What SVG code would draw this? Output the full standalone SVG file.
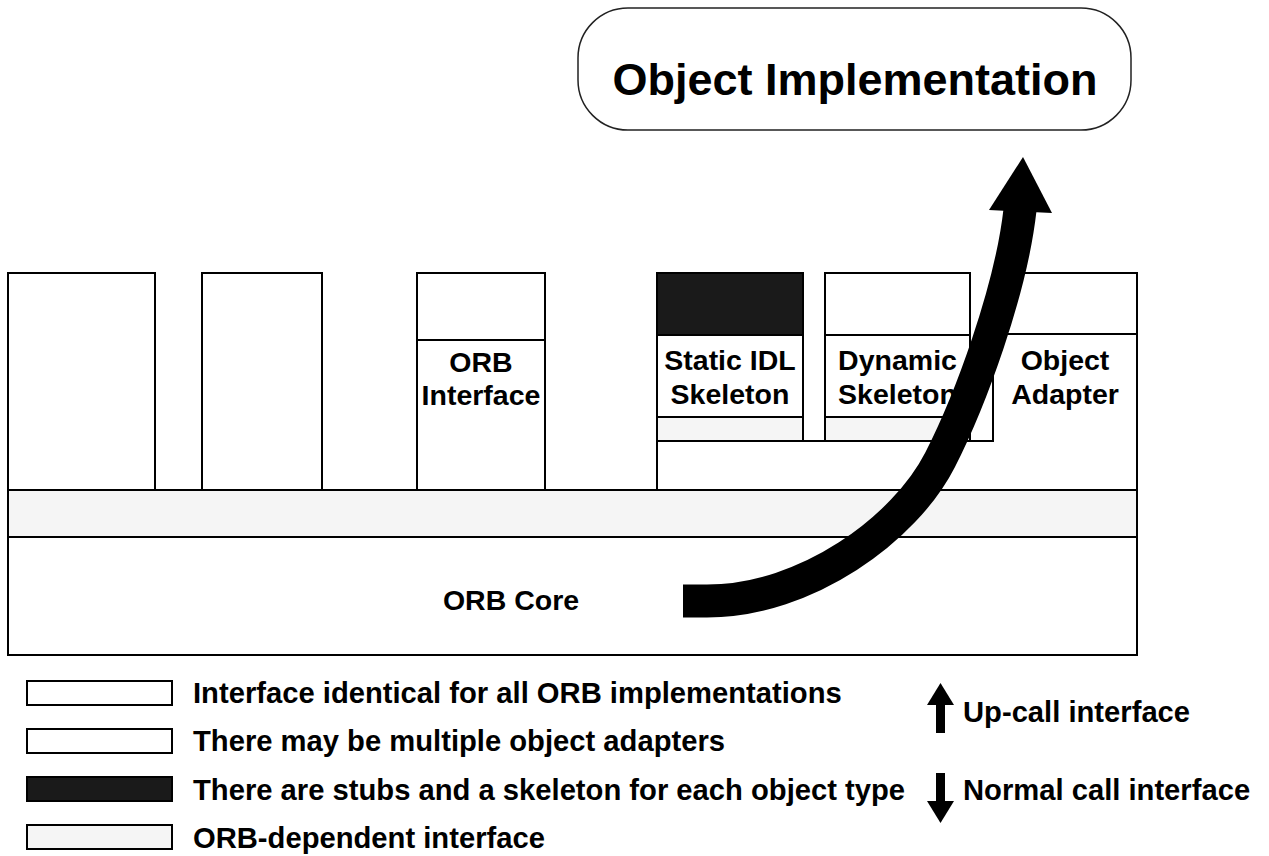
<svg xmlns="http://www.w3.org/2000/svg" width="1269" height="856" viewBox="0 0 1269 856">
<style>
.box{fill:#fff;stroke:#000;stroke-width:2}
.light{fill:#f5f5f5;stroke:#000;stroke-width:2}
.dark{fill:#1a1a1a;stroke:#000;stroke-width:2}
.ln{stroke:#000;stroke-width:2;fill:none}
.lbl{font-family:"Liberation Sans",Arial,sans-serif;font-weight:bold;font-size:28.5px;fill:#000}
.leg{font-size:29.2px}
.mid{text-anchor:middle}
</style>
<rect width="1269" height="856" fill="#fff"/>
<g id="object-implementation">
<rect x="578" y="8" width="553" height="122" rx="50" ry="50" fill="#fff" stroke="#222" stroke-width="1.5"/>
<text x="855" y="95" class="lbl mid" style="font-size:45px">Object Implementation</text>
</g>
<g id="orb-core">
<rect x="8" y="537" width="1129" height="118" class="box"/>
<text x="511" y="610" class="lbl mid">ORB Core</text>
</g>
<g id="orb-dependent-bar">
<rect x="8" y="490" width="1129" height="47" class="light"/>
</g>
<g id="client-box-1">
<rect x="8" y="273" width="147" height="217" class="box"/>
</g>
<g id="client-box-2">
<rect x="202" y="273" width="120" height="217" class="box"/>
</g>
<g id="orb-interface">
<rect x="417" y="273" width="128" height="217" class="box"/>
<line x1="417" y1="340" x2="545" y2="340" class="ln"/>
<text x="481" y="372" class="lbl mid">ORB</text>
<text x="481" y="405" class="lbl mid">Interface</text>
</g>
<g id="object-adapter">
<polygon points="993,273 1137,273 1137,490 657,490 657,441 993,441" class="box"/>
<line x1="993" y1="334" x2="1137" y2="334" class="ln"/>
<text x="1065" y="370" class="lbl mid">Object</text>
<text x="1065" y="404" class="lbl mid">Adapter</text>
</g>
<g id="static-idl-skeleton">
<rect x="657" y="273" width="146" height="168" class="box"/>
<rect x="657" y="273" width="146" height="62" class="dark"/>
<rect x="657" y="417" width="146" height="24" class="light"/>
<text x="730" y="370" class="lbl mid">Static IDL</text>
<text x="730" y="404" class="lbl mid">Skeleton</text>
</g>
<g id="dynamic-skeleton">
<rect x="825" y="273" width="145" height="168" class="box"/>
<line x1="825" y1="335" x2="970" y2="335" class="ln"/>
<rect x="825" y="417" width="145" height="24" class="light"/>
<text x="897.5" y="370" class="lbl mid">Dynamic</text>
<text x="897.5" y="404" class="lbl mid">Skeleton</text>
</g>
<g id="connectors">
<path d="M683,601 H707 C807,601 905,528.6 940,460 C970,401.2 1010.8,291.4 1020,210" fill="none" stroke="#000" stroke-width="33" stroke-linecap="butt"/>
<polygon points="1023,157 1052,213 989,210" fill="#000"/>
</g>
<g id="legend">
<rect x="27" y="681" width="145" height="24" class="box"/>
<text x="193" y="703" class="lbl leg">Interface identical for all ORB implementations</text>
<rect x="27" y="729" width="145" height="24" class="box"/>
<text x="193" y="751" class="lbl leg">There may be multiple object adapters</text>
<rect x="27" y="777" width="145" height="24" class="dark"/>
<text x="193" y="800" class="lbl leg">There are stubs and a skeleton for each object type</text>
<rect x="27" y="825" width="145" height="24" class="light"/>
<text x="193" y="848" class="lbl leg">ORB-dependent interface</text>
<g id="legend-upcall">
<rect x="936" y="703" width="9" height="30" fill="#000"/>
<polygon points="940.5,683 954,705 927,705" fill="#000"/>
<text x="963" y="722" class="lbl leg">Up-call interface</text>
</g>
<g id="legend-normal">
<rect x="936" y="773" width="9" height="29" fill="#000"/>
<polygon points="927,801 954,801 940.5,823" fill="#000"/>
<text x="963" y="800" class="lbl leg">Normal call interface</text>
</g>
</g>
</svg>
